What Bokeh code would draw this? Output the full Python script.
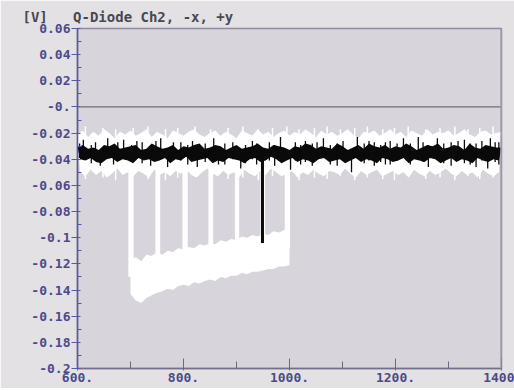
from bokeh.plotting import figure
from bokeh.models import FixedTicker, Span, Range1d
from bokeh.embed import file_html
from bokeh.resources import INLINE

# ---------------- data ----------------
x_top = list(range(600, 1401, 10))   # sample positions of upper envelopes
x_bot = list(range(605, 1400, 10))   # sample positions of lower envelopes

# white trace: baseline noise band
white_top = [-0.021, -0.018, -0.023, -0.019, -0.022, -0.017, -0.020, -0.024, -0.019, -0.021,
             -0.018, -0.022, -0.020, -0.017, -0.023, -0.019, -0.021, -0.024, -0.018, -0.020,
             -0.022, -0.019, -0.017, -0.021, -0.023, -0.020, -0.018, -0.022, -0.019, -0.021,
             -0.024, -0.018, -0.020, -0.022, -0.017, -0.021, -0.019, -0.023, -0.020, -0.018,
             -0.022, -0.019, -0.021, -0.017, -0.020, -0.023, -0.018, -0.021, -0.019, -0.022,
             -0.020, -0.017, -0.021, -0.024, -0.019, -0.020, -0.018, -0.022, -0.020, -0.017,
             -0.021, -0.019, -0.023, -0.018, -0.020, -0.022, -0.017, -0.021, -0.019, -0.020,
             -0.018, -0.022, -0.020, -0.017, -0.021, -0.023, -0.019, -0.018, -0.021, -0.020,
             -0.019]
white_bot = [-0.050, -0.053, -0.048, -0.052, -0.049, -0.054, -0.051, -0.047, -0.052, -0.050,
             -0.053, -0.049, -0.051, -0.054, -0.048, -0.052, -0.050, -0.053, -0.049, -0.051,
             -0.048, -0.052, -0.054, -0.050, -0.047, -0.051, -0.053, -0.049, -0.052, -0.050,
             -0.054, -0.048, -0.051, -0.053, -0.049, -0.052, -0.047, -0.050, -0.053, -0.051,
             -0.049, -0.054, -0.050, -0.052, -0.048, -0.051, -0.053, -0.049, -0.050, -0.052,
             -0.047, -0.051, -0.054, -0.049, -0.052, -0.050, -0.048, -0.053, -0.051, -0.049,
             -0.052, -0.050, -0.054, -0.048, -0.051, -0.053, -0.049, -0.052, -0.050, -0.047,
             -0.051, -0.053, -0.049, -0.052, -0.050, -0.054, -0.048, -0.051, -0.053, -0.050]

# white trace: isolated noise excursions (position, top, bottom)
wspike_x = [615, 648, 672, 705, 733, 766, 789, 822, 851, 884, 912, 941, 968, 995, 1018,
            1047, 1071, 1096, 1123, 1147, 1176, 1198, 1224, 1257, 1284, 1312, 1337, 1359, 1384]
wspike_top = [-0.015, -0.016, -0.017, -0.016, -0.015, -0.017, -0.016, -0.015, -0.017, -0.016,
              -0.015, -0.017, -0.016, -0.015, -0.017, -0.016, -0.015, -0.017, -0.016, -0.015,
              -0.017, -0.016, -0.015, -0.017, -0.016, -0.015, -0.017, -0.016, -0.015]
wspike_bot = [-0.055, -0.054, -0.056, -0.053, -0.055, -0.056, -0.054, -0.053, -0.056, -0.055,
              -0.054, -0.056, -0.053, -0.055, -0.056, -0.054, -0.055, -0.053, -0.056, -0.054,
              -0.055, -0.056, -0.053, -0.055, -0.054, -0.056, -0.053, -0.055, -0.054]

# white trace: lowered section 700..1000
x_low = list(range(700, 1001, 10))
low_top = [-0.117, -0.115, -0.118, -0.113, -0.114, -0.111, -0.113, -0.110, -0.111, -0.108,
           -0.109, -0.107, -0.108, -0.105, -0.106, -0.104, -0.105, -0.102, -0.103, -0.101,
           -0.102, -0.099, -0.100, -0.098, -0.099, -0.097, -0.098, -0.095, -0.096, -0.094,
           -0.095]
low_bot = [-0.143, -0.148, -0.150, -0.146, -0.144, -0.142, -0.141, -0.139, -0.140, -0.137,
           -0.136, -0.137, -0.134, -0.135, -0.133, -0.132, -0.133, -0.130, -0.131, -0.129,
           -0.129, -0.127, -0.128, -0.126, -0.126, -0.125, -0.124, -0.124, -0.122, -0.122,
           -0.121]

# white trace: returns to baseline inside the lowered section
strip_x0 = [696, 747, 798, 847, 897, 945, 991]
strip_x1 = [706, 756, 808, 856, 905, 954, 1001]
strip_top = [-0.040, -0.040, -0.040, -0.040, -0.040, -0.040, -0.040]
strip_bot = [-0.130, -0.125, -0.120, -0.117, -0.113, -0.110, -0.108]

# black trace: noise band
black_hi = [-0.031, -0.029, -0.032, -0.031, -0.033, -0.029, -0.030, -0.028, -0.032, -0.031,
            -0.030, -0.029, -0.033, -0.032, -0.028, -0.030, -0.032, -0.031, -0.029, -0.033,
            -0.030, -0.031, -0.029, -0.028, -0.032, -0.031, -0.029, -0.030, -0.033, -0.031,
            -0.029, -0.032, -0.031, -0.030, -0.028, -0.031, -0.032, -0.029, -0.030, -0.031,
            -0.033, -0.030, -0.031, -0.028, -0.029, -0.032, -0.030, -0.031, -0.032, -0.028,
            -0.030, -0.033, -0.031, -0.029, -0.032, -0.028, -0.030, -0.031, -0.029, -0.032,
            -0.030, -0.031, -0.028, -0.030, -0.033, -0.031, -0.029, -0.030, -0.028, -0.032,
            -0.031, -0.029, -0.030, -0.033, -0.028, -0.031, -0.032, -0.029, -0.030, -0.031,
            -0.031]
black_lo = [-0.040, -0.041, -0.039, -0.042, -0.043, -0.040, -0.039, -0.042, -0.040, -0.041,
            -0.043, -0.039, -0.041, -0.040, -0.042, -0.041, -0.039, -0.043, -0.040, -0.041,
            -0.038, -0.042, -0.041, -0.040, -0.039, -0.043, -0.041, -0.042, -0.039, -0.040,
            -0.041, -0.043, -0.040, -0.039, -0.042, -0.041, -0.038, -0.040, -0.043, -0.041,
            -0.039, -0.042, -0.040, -0.041, -0.043, -0.040, -0.039, -0.042, -0.041, -0.040,
            -0.043, -0.041, -0.039, -0.042, -0.040, -0.041, -0.043, -0.039, -0.040, -0.042,
            -0.041, -0.039, -0.043, -0.040, -0.041, -0.042, -0.039, -0.040, -0.043, -0.041,
            -0.039, -0.042, -0.040, -0.041, -0.043, -0.039, -0.041, -0.042, -0.040, -0.041]

# black trace: individual spikes (position, top, bottom)
spike_x = [604, 611, 626, 634, 643, 657, 668, 676, 687, 702, 712, 722, 738, 748, 757, 770,
           781, 795, 808, 817, 826, 841, 857, 866, 878, 893, 908, 917, 930, 938, 962, 972,
           983, 1002, 1011, 1021, 1030, 1043, 1052, 1064, 1077, 1090, 1101, 1117, 1128, 1141,
           1150, 1160, 1172, 1181, 1190, 1203, 1215, 1228, 1243, 1252, 1262, 1279, 1291, 1305,
           1318, 1330, 1341, 1352, 1363, 1374, 1379, 1388, 1395]
spike_top = [-0.028, -0.025, -0.029, -0.027, -0.034, -0.024, -0.030, -0.027, -0.025, -0.029,
             -0.026, -0.027, -0.030, -0.026, -0.024, -0.033, -0.027, -0.027, -0.029, -0.026,
             -0.032, -0.028, -0.024, -0.030, -0.028, -0.027, -0.033, -0.029, -0.026, -0.028,
             -0.027, -0.029, -0.023, -0.033, -0.027, -0.029, -0.026, -0.028, -0.027, -0.024,
             -0.029, -0.028, -0.026, -0.034, -0.023, -0.028, -0.026, -0.027, -0.029, -0.027,
             -0.026, -0.028, -0.024, -0.028, -0.023, -0.027, -0.029, -0.024, -0.028, -0.027,
             -0.026, -0.025, -0.028, -0.028, -0.026, -0.030, -0.024, -0.027, -0.027]
spike_bot = [-0.039, -0.036, -0.043, -0.038, -0.045, -0.036, -0.044, -0.040, -0.036, -0.042,
             -0.039, -0.043, -0.045, -0.038, -0.037, -0.046, -0.040, -0.041, -0.044, -0.039,
             -0.046, -0.042, -0.037, -0.044, -0.044, -0.040, -0.047, -0.043, -0.040, -0.044,
             -0.041, -0.045, -0.036, -0.048, -0.041, -0.044, -0.042, -0.045, -0.040, -0.036,
             -0.044, -0.045, -0.041, -0.050, -0.036, -0.043, -0.041, -0.045, -0.042, -0.044,
             -0.044, -0.041, -0.038, -0.044, -0.040, -0.042, -0.046, -0.039, -0.043, -0.045,
             -0.041, -0.043, -0.044, -0.046, -0.041, -0.047, -0.037, -0.042, -0.044]
big_spike_x = [949]
big_spike_top = [-0.034]
big_spike_bot = [-0.104]

x_ticks = [600, 800, 1000, 1200, 1400]
x_minor = [700, 900, 1100, 1300]
x_labels = ["600.", "800.", "1000.", "1200.", "1400"]
y_ticks = [0.06, 0.04, 0.02, 0.0, -0.02, -0.04, -0.06, -0.08, -0.1, -0.12, -0.14, -0.16, -0.18, -0.2]
y_minor = [0.05, 0.03, 0.01, -0.01, -0.03, -0.05, -0.07, -0.09, -0.11, -0.13, -0.15, -0.17, -0.19]
y_labels = ["0.06", "0.04", "0.02", "-0.", "-0.02", "-0.04", "-0.06", "-0.08", "-0.1",
            "-0.12", "-0.14", "-0.16", "-0.18", "-0.2"]

title_unit = "[V]"
title_text = "Q-Diode Ch2, -x, +y"

# ---------------- figure ----------------
FONT = "DejaVu Sans Mono"
p = figure(width=514, height=388, output_backend="svg", toolbar_location=None,
           x_range=Range1d(600, 1400), y_range=Range1d(-0.2, 0.06),
           title=title_unit + "\u00a0\u00a0\u00a0" + title_text,
           min_border_left=77, min_border_right=13, min_border_top=28, min_border_bottom=20)
p.border_fill_color = "#e3e1e4"
p.background_fill_color = "#d7d4db"
p.outline_line_color = "#8e8c9e"
p.outline_line_width = 1.5
p.xgrid.visible = False
p.ygrid.visible = False

p.title.align = "left"
p.title.offset = -55
p.title.standoff = 7
p.title.text_font = FONT
p.title.text_font_size = "14px"
p.title.text_font_style = "bold"
p.title.text_color = "#48484f"

# white trace (polygon: upper envelope forward, lower envelope back)
p.patch(x=x_top + x_bot[::-1], y=white_top + white_bot[::-1], fill_color="white", line_color=None)
p.segment(x0=wspike_x, y0=wspike_top, x1=wspike_x, y1=wspike_bot, line_color="white", line_width=1.5)
p.varea(x=x_low, y1=low_bot, y2=low_top, fill_color="white")
p.quad(left=strip_x0, right=strip_x1, top=strip_top, bottom=strip_bot,
       fill_color="white", line_color=None)

# black trace
p.patch(x=x_top + x_bot[::-1], y=black_hi + black_lo[::-1], fill_color="#0a0a0a", line_color=None)
p.segment(x0=spike_x, y0=spike_top, x1=spike_x, y1=spike_bot, line_color="#0a0a0a", line_width=1.3)
p.segment(x0=big_spike_x, y0=big_spike_top, x1=big_spike_x, y1=big_spike_bot,
          line_color="#0a0a0a", line_width=3)

p.add_layout(Span(location=0, dimension="width", line_color="#6e6c80", line_width=1.2))
p.add_layout(Span(location=1400, dimension="height", line_color="#a4a2b4", line_width=2.5))

# axes
xa = p.xaxis[0]
xa.ticker = FixedTicker(ticks=x_ticks, minor_ticks=x_minor)
xa.major_label_overrides = dict(zip(x_ticks, x_labels))
xa.axis_line_color = "#72708a"
xa.axis_line_width = 1.5
xa.major_tick_line_color = "#6a6882"
xa.minor_tick_line_color = "#6a6882"
xa.major_tick_in = 10
xa.major_tick_out = 2
xa.minor_tick_in = 7
xa.minor_tick_out = 0
xa.major_label_standoff = 2
xa.major_label_text_font = FONT
xa.major_label_text_font_size = "13px"
xa.major_label_text_font_style = "bold"
xa.major_label_text_color = "#4c4a88"

ya = p.yaxis[0]
ya.ticker = FixedTicker(ticks=y_ticks, minor_ticks=y_minor)
ya.major_label_overrides = dict(zip(y_ticks, y_labels))
ya.axis_line_color = "#5a58a4"
ya.axis_line_width = 1.5
ya.major_tick_line_color = "#5a58a4"
ya.minor_tick_line_color = "#5a58a4"
ya.major_tick_in = 3
ya.major_tick_out = 6
ya.minor_tick_in = 4
ya.minor_tick_out = 0
ya.major_label_standoff = 1
ya.major_label_text_font = FONT
ya.major_label_text_font_size = "13px"
ya.major_label_text_font_style = "bold"
ya.major_label_text_color = "#4c4a88"

open("out.html", "w").write(file_html(p, INLINE))
